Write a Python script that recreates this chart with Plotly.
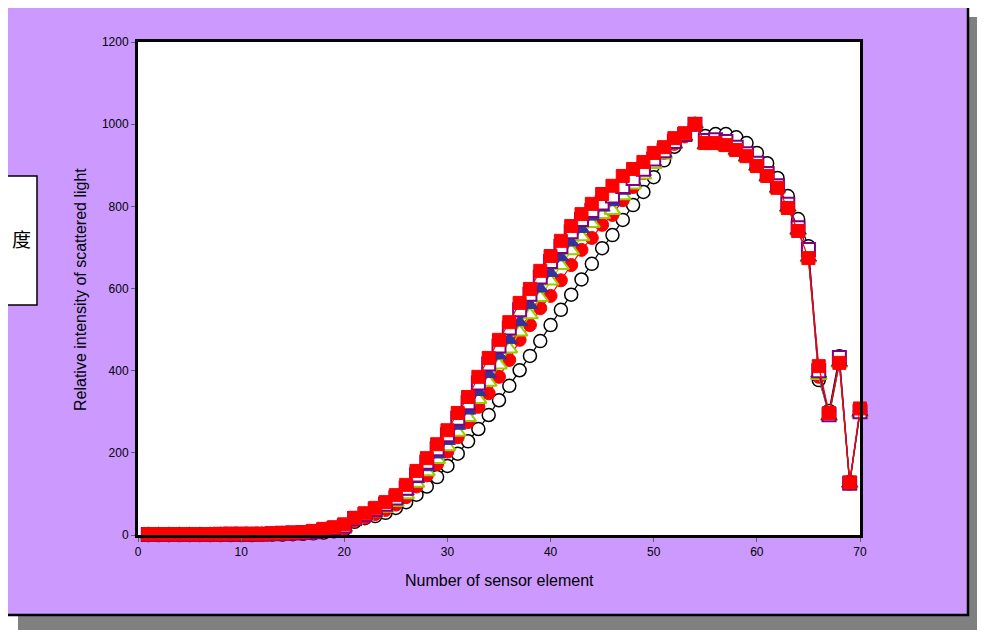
import plotly.graph_objects as go

# ---------------- data ----------------
sensor = list(range(1, 71))

open_circle = [0,0,0,0,0,0,0,0,0,0,
               0,1,1,1,2,3,4,6,9,14,
               32,41,46,54,66,80,98,118,141,168,
               198,228,258,292,328,363,401,436,472,511,
               548,585,622,660,698,730,767,803,835,871,
               912,945,975,1000,971,976,976,968,954,930,
               905,869,825,769,703,377,302,435,129,302]

red_circle = [0,0,0,0,0,0,0,1,1,1,
              1,1,2,2,3,4,5,8,11,15,
              35,42,51,61,74,92,118,145,173,203,
              238,275,312,345,385,426,475,511,552,582,
              620,657,694,723,755,779,815,847,881,908,
              930,952,970,1000,955,956,950,940,924,900,
              874,846,798,742,676,385,292,418,125,300]

green_triangle = [1,1,1,1,1,1,1,1,1,1,
                  1,2,2,3,3,4,6,9,12,17,
                  36,44,54,65,79,98,126,154,184,215,
                  250,286,330,372,414,453,494,536,578,618,
                  656,692,726,758,780,790,826,852,876,902,
                  925,950,968,1000,948,948,944,934,918,896,
                  870,842,796,740,674,388,288,418,124,296]

blue_triangle = [1,1,1,1,1,1,1,1,2,2,
                 2,2,2,3,4,5,7,10,14,19,
                 38,47,58,70,85,106,136,165,196,229,
                 266,303,348,392,437,475,518,560,600,638,
                 676,712,745,775,797,810,838,862,884,908,
                 930,952,970,1000,950,950,946,936,920,898,
                 872,844,798,742,676,393,290,420,126,300]

purple_square = [1,1,1,1,1,1,1,2,2,2,
                 2,2,3,4,5,6,8,12,16,22,
                 40,50,62,75,90,114,146,177,210,244,
                 284,322,370,416,460,504,548,586,628,666,
                 702,738,768,790,808,825,848,868,890,915,
                 935,958,975,1000,960,962,958,944,928,905,
                 880,850,805,748,695,400,293,432,126,300]

red_square = [2,2,2,2,2,2,2,2,3,3,
              3,3,4,5,6,7,10,15,19,26,
              42,53,66,80,97,122,156,187,221,255,
              297,336,385,431,475,518,565,599,643,679,
              716,752,781,806,830,850,874,891,908,930,
              944,966,978,1000,954,954,949,937,922,898,
              874,845,796,740,674,411,297,419,128,308]

x_ticks = [0, 10, 20, 30, 40, 50, 60, 70]
y_ticks = [0, 200, 400, 600, 800, 1000, 1200]

x_title = "Number of sensor element"
y_title = "Relative intensity of scattered light"
side_label = "度"

# ---------------- figure ----------------
W, H = 985, 630
OFF = 8                          # page body margin of the html page
L, R, T, B = 138, 860, 42, 535   # plot area, in screenshot pixels
Lf, Rf, Tf, Bf = L - OFF, R - OFF, T - OFF, B - OFF


def px(xp):
    return (xp - L) / (R - L)


def py(yp):
    return (B - yp) / (B - T)


fig = go.Figure()

series = [
    (open_circle, dict(symbol="circle", size=13, color="white",
                       line=dict(color="black", width=1.5)), "black"),
    (red_circle, dict(symbol="circle", size=13, color="#FF0000",
                      line=dict(color="#FF0000", width=1)), "#FF0000"),
    (green_triangle, dict(symbol="triangle-up", size=14, color="white",
                          line=dict(color="#99CC00", width=2)), "#99CC00"),
    (blue_triangle, dict(symbol="triangle-up", size=14, color="#333399",
                         line=dict(color="#333399", width=1)), "#333399"),
    (purple_square, dict(symbol="square", size=13, color="white",
                         line=dict(color="#800080", width=2)), "#800080"),
    (red_square, dict(symbol="square", size=13, color="#FF0000",
                      line=dict(color="#FF0000", width=1)), "#FF0000"),
]

for vals, mk, lc in series:
    fig.add_trace(go.Scatter(x=sensor, y=vals, mode="lines+markers",
                             marker=mk, line=dict(color=lc, width=1.2),
                             cliponaxis=False, showlegend=False))

shapes = [
    # shadow
    dict(type="rect", xref="paper", yref="paper", layer="below",
         x0=px(18), x1=px(1000), y0=py(650), y1=py(17),
         fillcolor="#808080", line=dict(width=0)),
    # lavender panel
    dict(type="rect", xref="paper", yref="paper", layer="below",
         x0=px(3), x1=px(968), y0=py(615), y1=py(2),
         fillcolor="#CC99FF", line=dict(color="black", width=2.5)),
    # plot area
    dict(type="rect", xref="paper", yref="paper", layer="below",
         x0=0, x1=1, y0=0, y1=1, fillcolor="white", line=dict(width=0)),
    # side label box
    dict(type="rect", xref="paper", yref="paper", layer="below",
         x0=px(-5), x1=px(37), y0=py(305), y1=py(176),
         fillcolor="white", line=dict(color="black", width=1.5)),
]

annotations = [
    dict(text=x_title, xref="paper", yref="paper", x=px(499), y=py(580),
         showarrow=False, font=dict(size=16, color="black"),
         xanchor="center", yanchor="middle"),
    dict(text=y_title, xref="paper", yref="paper", x=px(80), y=py(290),
         showarrow=False, textangle=-90, font=dict(size=16, color="black"),
         xanchor="center", yanchor="middle"),
    dict(text=side_label, xref="paper", yref="paper", x=px(21), y=py(238),
         showarrow=False, font=dict(size=19, color="black",
                                    family="Noto Sans CJK SC"),
         xanchor="center", yanchor="middle"),
]

fig.update_layout(
    width=W, height=H,
    margin=dict(l=Lf, r=W - Rf, t=Tf, b=H - Bf, pad=0),
    paper_bgcolor="white", plot_bgcolor="white",
    font=dict(family="Liberation Sans, Arial, sans-serif", size=12, color="black"),
    shapes=shapes, annotations=annotations, showlegend=False,
)

fig.update_xaxes(range=[0, 70], tickvals=x_ticks, ticktext=[str(v) for v in x_ticks],
                 showgrid=False, zeroline=False, showline=True, linecolor="black",
                 linewidth=3, mirror=True, ticks="outside", ticklen=4,
                 tickcolor="#606060", tickfont=dict(size=12))
fig.update_yaxes(range=[0, 1200], tickvals=y_ticks, ticktext=[str(v) for v in y_ticks],
                 showgrid=False, zeroline=False, showline=True, linecolor="black",
                 linewidth=3, mirror=True, ticks="outside", ticklen=4,
                 tickcolor="#606060", tickfont=dict(size=12))

fig.write_html("out.html")
